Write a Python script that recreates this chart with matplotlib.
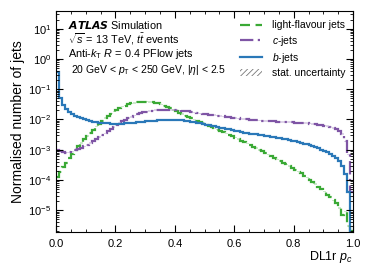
import matplotlib
matplotlib.use("Agg")
import matplotlib.pyplot as plt
import matplotlib.patches as mpatches
from matplotlib.lines import Line2D
from matplotlib.ticker import LogLocator, MultipleLocator, NullFormatter
import numpy as np

plt.rcParams["font.family"] = ["Liberation Sans", "DejaVu Sans"]
plt.rcParams["mathtext.fontset"] = "custom"
plt.rcParams["mathtext.rm"] = "Liberation Sans"
plt.rcParams["mathtext.it"] = "Liberation Sans:italic"
plt.rcParams["mathtext.bf"] = "Liberation Sans:bold"
plt.rcParams["hatch.linewidth"] = 0.6

# DL1r p_c, 100 bins between 0 and 1
bin_edges = np.linspace(0.0, 1.0, 101)

b_jets = [
    0.38, 0.05, 0.03, 0.022, 0.018, 0.015, 0.013, 0.0118, 0.0108, 0.0100,
    0.0094, 0.0089, 0.0085, 0.0082, 0.0079, 0.0077, 0.0075, 0.0074, 0.0073, 0.0072,
    0.0072, 0.0072, 0.0073, 0.0074, 0.0075, 0.0077, 0.0078, 0.0080, 0.0082, 0.0084,
    0.0086, 0.0088, 0.0090, 0.0092, 0.0094, 0.0095, 0.0096, 0.0097, 0.0097, 0.0097,
    0.0097, 0.0096, 0.0094, 0.0091, 0.0088, 0.0084, 0.0080, 0.0077, 0.0074, 0.0071,
    0.0068, 0.0065, 0.0062, 0.0059, 0.0056, 0.0053, 0.0051, 0.0049, 0.0047, 0.0045,
    0.0043, 0.0041, 0.0039, 0.0037, 0.0035, 0.0034, 0.0033, 0.0032, 0.0031, 0.0030,
    0.0029, 0.0028, 0.0027, 0.0026, 0.0025, 0.0024, 0.0023, 0.0022, 0.0021, 0.0020,
    0.0019, 0.0018, 0.0017, 0.0016, 0.0015, 0.0014, 0.0013, 0.0012, 0.0011, 0.00100,
    0.00092, 0.00082, 0.00072, 0.00062, 0.00052, 0.00042, 0.00028, 0.00016, 0.00004, 1e-7,
]

c_jets = [
    1.0e-3, 9.0e-4, 8.2e-4, 8.0e-4, 8.2e-4, 8.8e-4, 9.5e-4, 1.05e-3, 1.15e-3, 1.28e-3,
    1.45e-3, 1.65e-3, 1.9e-3, 2.2e-3, 2.6e-3, 3.0e-3, 3.5e-3, 4.1e-3, 4.8e-3, 5.6e-3,
    6.5e-3, 7.5e-3, 8.6e-3, 9.8e-3, 1.1e-2, 1.22e-2, 1.35e-2, 1.48e-2, 1.6e-2, 1.72e-2,
    1.82e-2, 1.9e-2, 1.97e-2, 2.02e-2, 2.06e-2, 2.08e-2, 2.1e-2, 2.1e-2, 2.1e-2, 2.08e-2,
    2.05e-2, 2.0e-2, 1.95e-2, 1.9e-2, 1.84e-2, 1.78e-2, 1.72e-2, 1.66e-2, 1.6e-2, 1.55e-2,
    1.5e-2, 1.46e-2, 1.42e-2, 1.38e-2, 1.34e-2, 1.3e-2, 1.26e-2, 1.22e-2, 1.18e-2, 1.15e-2,
    1.12e-2, 1.09e-2, 1.06e-2, 1.03e-2, 1.0e-2, 9.8e-3, 9.6e-3, 9.4e-3, 9.2e-3, 9.0e-3,
    8.9e-3, 8.8e-3, 8.7e-3, 8.6e-3, 8.5e-3, 8.4e-3, 8.3e-3, 8.2e-3, 8.1e-3, 8.0e-3,
    7.9e-3, 7.8e-3, 7.7e-3, 7.6e-3, 7.5e-3, 7.3e-3, 7.1e-3, 6.9e-3, 6.7e-3, 6.5e-3,
    6.3e-3, 6.0e-3, 5.7e-3, 5.3e-3, 4.8e-3, 4.2e-3, 3.3e-3, 1.9e-3, 7e-4, 4e-5,
]

light_jets = [
    1.3e-4, 1.8e-4, 2.6e-4, 3.7e-4, 5.2e-4, 7.2e-4, 9.8e-4, 1.3e-3, 1.7e-3, 2.2e-3,
    2.8e-3, 3.6e-3, 4.6e-3, 5.8e-3, 7.3e-3, 9.0e-3, 1.1e-2, 1.32e-2, 1.56e-2, 1.82e-2,
    2.1e-2, 2.38e-2, 2.65e-2, 2.9e-2, 3.15e-2, 3.38e-2, 3.58e-2, 3.74e-2, 3.85e-2, 3.9e-2,
    3.9e-2, 3.85e-2, 3.75e-2, 3.6e-2, 3.4e-2, 3.15e-2, 2.9e-2, 2.62e-2, 2.35e-2, 2.1e-2,
    1.87e-2, 1.67e-2, 1.5e-2, 1.35e-2, 1.22e-2, 1.1e-2, 9.9e-3, 9.0e-3, 8.2e-3, 7.5e-3,
    6.8e-3, 6.2e-3, 5.6e-3, 5.1e-3, 4.6e-3, 4.2e-3, 3.8e-3, 3.45e-3, 3.1e-3, 2.8e-3,
    2.5e-3, 2.25e-3, 2.0e-3, 1.8e-3, 1.6e-3, 1.42e-3, 1.26e-3, 1.12e-3, 9.9e-4, 8.8e-4,
    7.8e-4, 6.9e-4, 6.1e-4, 5.4e-4, 4.8e-4, 4.2e-4, 3.7e-4, 3.25e-4, 2.85e-4, 2.5e-4,
    2.2e-4, 1.9e-4, 1.65e-4, 1.4e-4, 1.2e-4, 1.02e-4, 8.7e-5, 7.3e-5, 6.0e-5, 5.0e-5,
    4.2e-5, 3.3e-5, 2.8e-5, 2.1e-5, 1.7e-5, 1.2e-5, 7e-6, 9e-6, 3e-6, 2e-6,
]

stat_rel = 0.06  # relative statistical uncertainty shown as a band

series = [
    ("light-flavour jets", light_jets, "#3aa935", (0, (4.5, 2.5))),
    ("$c$-jets", c_jets, "#7f55a5", (0, (6, 2, 1, 2))),
    ("$b$-jets", b_jets, "#2a78b8", "-"),
]

fig = plt.figure(figsize=(3.74, 2.80), dpi=100)
ax = fig.add_axes([0.150, 0.171, 0.794, 0.790])

handles = []
for label, vals, color, ls in series:
    vals = np.asarray(vals)
    ax.stairs(vals * (1 + stat_rel), bin_edges, baseline=vals * (1 - stat_rel),
              fill=True, color=color, alpha=0.25, linewidth=0)
    ax.stairs(vals, bin_edges, color=color, linestyle=ls, linewidth=1.6, baseline=None)
    handles.append(Line2D([], [], color=color, linestyle=ls, linewidth=1.6, label=label))

handles.append(mpatches.Patch(facecolor="none", edgecolor="#777777", hatch="//////",
                              linewidth=0, label="stat. uncertainty"))

ax.set_yscale("log")
ax.set_xlim(0.0, 1.0)
ax.set_ylim(1.88e-6, 39)
ax.xaxis.set_major_locator(MultipleLocator(0.2))
ax.xaxis.set_minor_locator(MultipleLocator(0.05))
ax.yaxis.set_major_locator(LogLocator(base=10, numticks=20))
ax.yaxis.set_minor_locator(LogLocator(base=10, subs=np.arange(2, 10), numticks=20))
ax.yaxis.set_minor_formatter(NullFormatter())
ax.tick_params(which="both", direction="in", top=True, right=True, labelsize=8)
ax.tick_params(axis="x", pad=5)
ax.tick_params(which="major", length=5, width=0.8)
ax.tick_params(which="minor", length=2.5, width=0.6)
for sp in ax.spines.values():
    sp.set_linewidth(0.8)

ax.set_ylabel("Normalised number of jets", fontsize=10, labelpad=2)
ax.set_xlabel("DL1r $p_c$", fontsize=9, loc="right", labelpad=0)

tx = 0.04
fs = 7.8
ax.text(tx, 0.937, r"$\mathbfit{ATLAS}$ Simulation", transform=ax.transAxes,
        fontsize=fs, va="center")
ax.text(tx, 0.870, r"$\sqrt{s}$ = 13 TeV, $t\bar{t}$ events", transform=ax.transAxes,
        fontsize=fs, va="center")
ax.text(tx, 0.803, r"Anti-$k_{\mathrm{T}}$ $R$ = 0.4 PFlow jets", transform=ax.transAxes,
        fontsize=fs, va="center")
ax.text(tx + 0.01, 0.735, r"20 GeV < $p_{\mathrm{T}}$ < 250 GeV, |$\eta$| < 2.5",
        transform=ax.transAxes, fontsize=7.5, va="center")

ax.legend(handles=handles, loc="upper right", bbox_to_anchor=(1.0, 0.99), frameon=False,
          fontsize=7.5, handlelength=2.1, handletextpad=1.0, labelspacing=0.3,
          borderaxespad=0.3)

fig.savefig("out.png", dpi=100)
